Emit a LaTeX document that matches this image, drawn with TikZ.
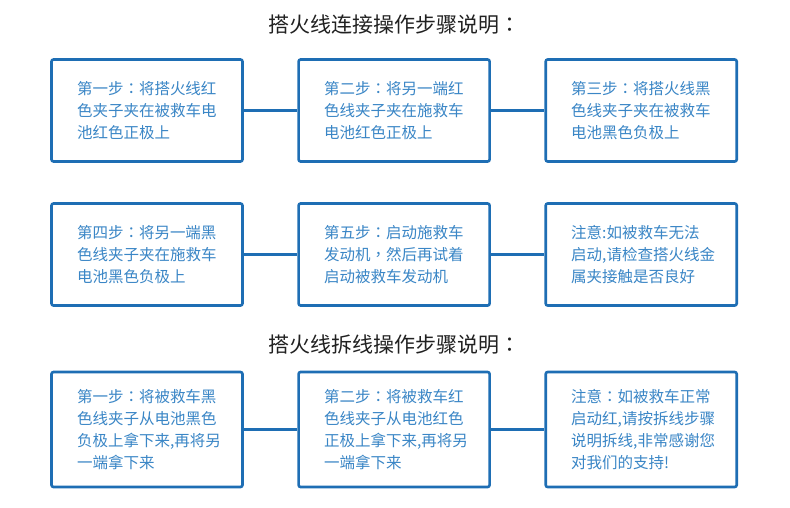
\documentclass[tikz,border=0pt]{standalone}
\usepackage{fontspec}
\setmainfont{Noto Sans CJK SC}
\newfontfamily\tcfont{Noto Sans CJK TC}
\newcommand{\fcolon}{{\tcfont ：}}
\newcommand{\fcomma}{{\tcfont ，}}
\usetikzlibrary{positioning}
\definecolor{boxblue}{RGB}{30,110,180}
\definecolor{textblue}{RGB}{58,134,198}

\begin{document}
\begin{tikzpicture}[
		x=1pt, y=-1pt,
		every node/.style={anchor=center, inner sep=0pt},
		title/.style={font=\fontsize{21}{25}\selectfont, text=black!87},
		stepbox/.style={draw=boxblue, line width=2.6pt, rounded corners=2pt, fill=white,
			minimum width=191pt, minimum height=102pt, text width=140pt, align=left,
			text=textblue, font=\fontsize{15.5}{22}\selectfont},
		tallbox/.style={stepbox, minimum height=115pt},
		link/.style={draw=boxblue, line width=2.6pt}
		]
		
		\useasboundingbox (0,0) rectangle (790,507);
		
		\node[title] (t1) at (394,25) {搭火线连接操作步骤说明\fcolon};
		
		\node[stepbox] (s1) at (147,110.5) {第一步\fcolon 将搭火线红\\色夹子夹在被救车电\\池红色正极上};
		\node[stepbox, right=53.5pt of s1] (s2) {第二步\fcolon 将另一端红\\色线夹子夹在施救车\\电池红色正极上};
		\node[stepbox, right=53.5pt of s2] (s3) {第三步\fcolon 将搭火线黑\\色线夹子夹在被救车\\电池黑色负极上};
		
		\node[stepbox, below=39.4pt of s1] (s4) {第四步\fcolon 将另一端黑\\色线夹子夹在施救车\\电池黑色负极上};
		\node[stepbox, right=53.5pt of s4] (s5) {第五步\fcolon 启动施救车\\发动机\fcomma 然后再试着\\启动被救车发动机};
		\node[stepbox, right=53.5pt of s5] (s6) {注意:如被救车无法\\启动,请检查搭火线金\\属夹接触是否良好};
		
		\draw[link] (s1) -- (s2);
		\draw[link] (s2) -- (s3);
		\draw[link] (s4) -- (s5);
		\draw[link] (s5) -- (s6);
		
		\node[title] (t2) at (394,345) {搭火线拆线操作步骤说明\fcolon};
		
		\node[tallbox] (r1) at (147,429.5) {第一步\fcolon 将被救车黑\\色线夹子从电池黑色\\负极上拿下来,再将另\\一端拿下来};
		\node[tallbox, right=53.5pt of r1] (r2) {第二步\fcolon 将被救车红\\色线夹子从电池红色\\正极上拿下来,再将另\\一端拿下来};
		\node[tallbox, right=53.5pt of r2] (r3) {注意\fcolon 如被救车正常\\启动红,请按拆线步骤\\说明拆线,非常感谢您\\对我们的支持!};
		
		\draw[link] (r1) -- (r2);
		\draw[link] (r2) -- (r3);
		
\end{tikzpicture}
\end{document}
